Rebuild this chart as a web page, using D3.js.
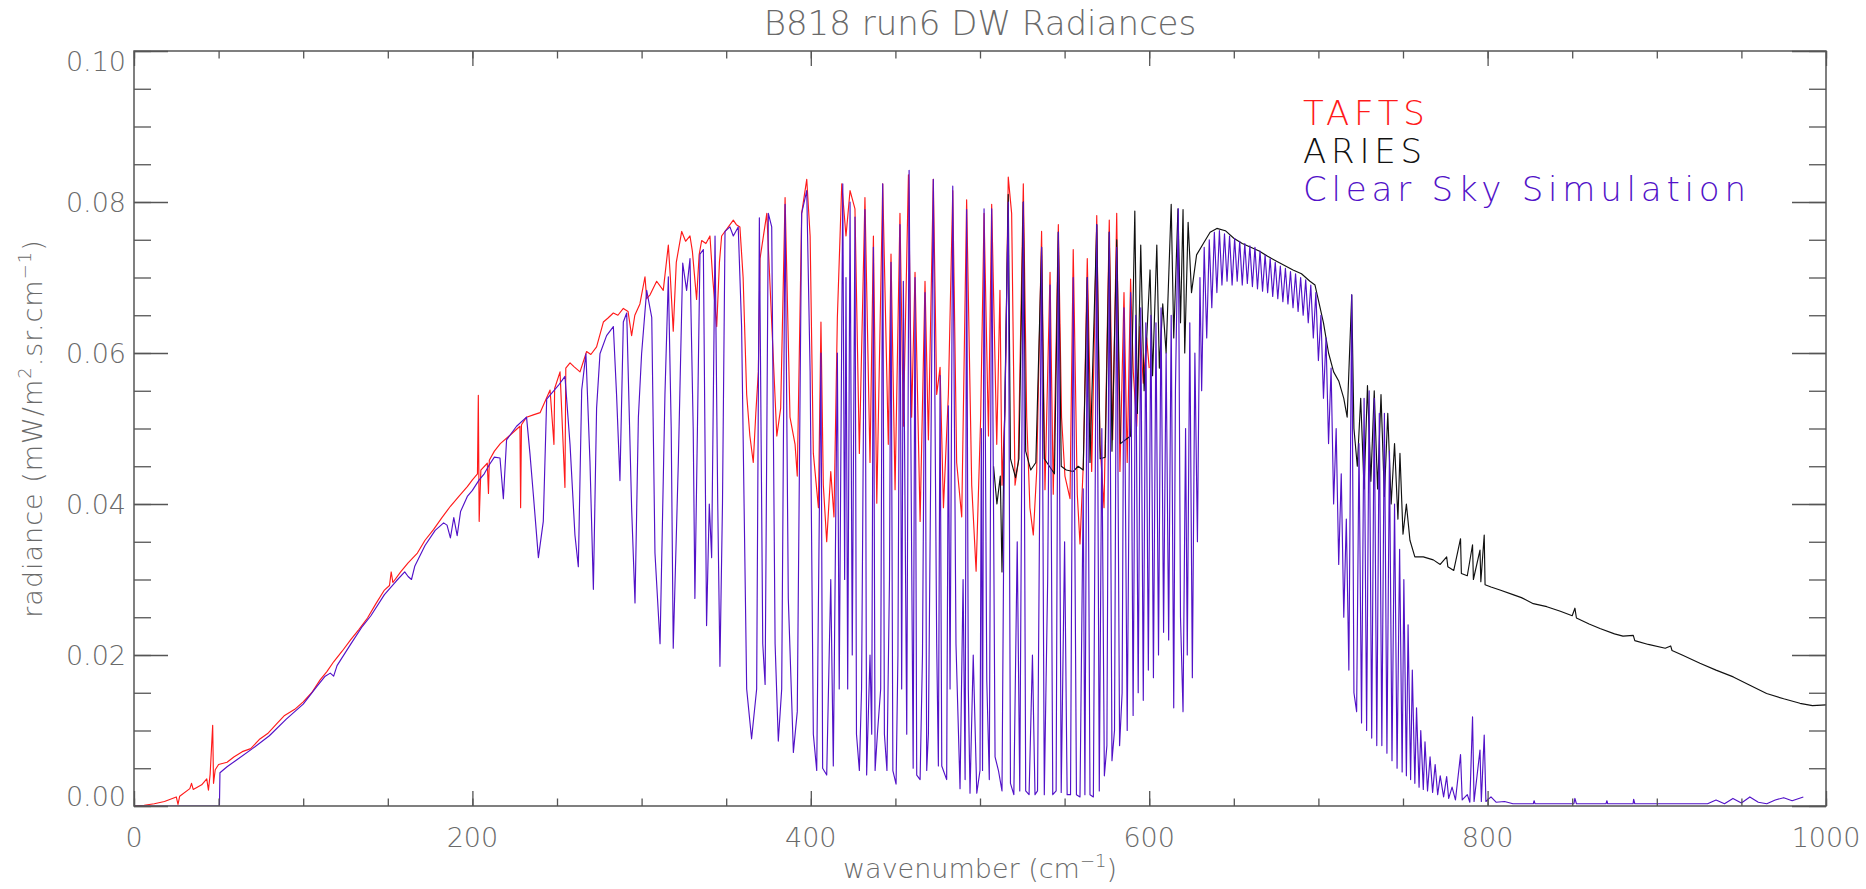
<!DOCTYPE html>
<html>
<head>
<meta charset="utf-8">
<script src="https://cdn.jsdelivr.net/npm/d3@7"></script>
<style>
  body { margin: 0; background: #fff; }
  text { font-family: "DejaVu Sans", sans-serif; font-weight: 200; }
</style>
</head>
<body>
<svg id="chart" width="1866" height="889"></svg>
<script>
// wavenumber (cm-1), radiance pairs
const tafts = [
  [0,0],[6,0.0001],[12,0.0003],[18,0.0006],[25,0.0012],[26,0.0002],[27,0.0013],[33,0.0023],[34,0.0030],[35,0.0022],
  [40,0.0028],[43,0.0036],[44,0.0021],[45,0.0042],[46.5,0.0107],[47,0.0030],[48,0.0048],[50,0.0055],[55,0.0058],[59,0.0065],
  [64,0.0072],[69,0.0076],[74,0.0088],[79,0.0096],[84,0.0108],[89,0.0120],[95,0.0128],[100,0.0138],[105,0.0150],[110,0.0167],
  [114,0.0178],[118,0.0191],[123,0.0205],[128,0.0220],[133,0.0234],[138,0.0249],[143,0.0268],[148,0.0286],[151,0.0292],[152,0.0310],
  [153,0.0296],[157.6,0.0310],[162,0.0322],[167.5,0.0335],[172,0.0352],[177,0.0366],[182,0.0382],[187,0.0397],[192,0.0410],[197,0.0423],
  [200,0.0432],[203,0.0440],[203.5,0.0544],[204,0.0377],[205,0.0445],[208.8,0.0454],[209.5,0.0414],[210,0.0458],[213,0.0470],[216.5,0.0480],
  [222.2,0.0491],[228.1,0.0503],[228.5,0.0395],[229,0.0505],[232,0.0515],[236,0.0518],[240,0.0521],[245.9,0.0551],[248.2,0.0479],[248.6,0.0553],
  [251.8,0.0575],[254.7,0.0422],[255.2,0.0580],[257.7,0.0587],[260,0.0582],[263.6,0.0575],[267.5,0.0602],[270,0.0598],[273.4,0.0608],[277.4,0.0641],
  [280,0.0646],[283.3,0.0653],[286,0.0650],[289.2,0.0659],[292,0.0655],[294.1,0.0623],[296,0.0650],[299,0.0665],[302,0.0701],[303,0.0672],
  [305,0.0677],[308.9,0.0695],[312.8,0.0683],[315.8,0.0743],[317,0.0700],[318.7,0.0629],[320.5,0.0720],[323.7,0.0761],[326,0.0748],[328.6,0.0755],
  [330,0.0735],[332.5,0.0671],[334,0.0730],[335.5,0.0749],[338,0.0745],[340.4,0.0755],[342,0.0700],[344.4,0.0635],[346,0.0720],[347.3,0.0755],
  [350.3,0.0764],[354.2,0.0776],[356,0.0770],[358.1,0.0767],[360,0.0700],[362.1,0.0545],[364,0.0490],[366,0.0455],[367.5,0.0520],[369,0.0575],
  [370,0.0725],[374,0.0785],[377,0.0635],[379.9,0.0490],[382.2,0.0527],[384.8,0.0806],[387.7,0.0515],[390.7,0.0479],[392,0.0437],[394.6,0.0785],
  [397.6,0.0830],[399.6,0.0755],[401.5,0.0467],[404.5,0.0395],[406,0.0641],[407.4,0.0425],[409.4,0.0350],[411.8,0.0443],[413.7,0.0383],[415.7,0.0647],
  [418.3,0.0824],[420.8,0.0755],[423.2,0.0815],[426.1,0.0791],[428.7,0.0467],[432,0.0806],[435,0.0455],[437,0.0755],[439,0.0401],[442.5,0.0824],
  [445.8,0.0479],[447.4,0.0731],[449.8,0.0419],[452.7,0.0785],[454.7,0.0503],[457.7,0.0836],[459.6,0.0515],[461.6,0.0707],[464.6,0.0377],[467.5,0.0695],
  [469.5,0.0485],[472.4,0.0830],[474.4,0.0545],[476.4,0.0581],[478.4,0.0395],[481.3,0.0545],[483.9,0.0815],[486.2,0.0455],[489.2,0.0383],[492.1,0.0803],
  [495.1,0.0425],[497.7,0.0311],[500.4,0.0515],[502.4,0.0785],[505,0.0490],[506.9,0.0797],[509.9,0.0479],[511.8,0.0683],[513,0.0425],[514.8,0.0527],
  [516.7,0.0833],[518.7,0.0785],[520.7,0.0425],[522.6,0.0455],[525.6,0.0824],[527.6,0.0515],[529.5,0.0395],[531.5,0.0359],[533.5,0.0443],[536.4,0.0761],
  [538.4,0.0419],[541.4,0.0707],[543.3,0.0413],[546.3,0.0770],[548.2,0.0515],[550.2,0.0437],[553.2,0.0407],[555.1,0.0737],[557.5,0.0413],[559.1,0.0347],
  [561.1,0.0455],[563.4,0.0725],[566,0.0443],[569,0.0782],[570.9,0.0479],[573.3,0.0395],[576.4,0.0776],[578.4,0.0485],[580.8,0.0785],[582.7,0.0443],
  [585.1,0.0680],[587,0.0455],[589,0.0698],[590.6,0.0575],[592.6,0.0503],[594.5,0.0635],[596.5,0.0560],[598.5,0.0620],[600,0.0580]
];

const aries = [
  [508,0.0450],[510,0.0400],[512,0.0437],[513,0.0310],[514,0.0440],[516.7,0.0810],[518,0.0460],[521,0.0435],[523,0.0460],[525.6,0.0800],
  [527,0.0470],[530,0.0445],[533,0.0455],[536.4,0.0740],[538,0.0460],[541,0.0450],[544,0.0440],[546.3,0.0760],[548,0.0450],[551,0.0445],
  [555,0.0443],[558,0.0450],[561,0.0445],[563.4,0.0700],[565,0.0455],[569,0.0770],[571,0.0460],[574,0.0462],[576.4,0.0760],[578,0.0470],
  [580.8,0.0750],[583,0.0480],[586,0.0485],[589,0.0490],[591.5,0.0788],[593,0.0520],[595,0.0743],[597,0.0550],[600.5,0.0710],[602,0.0570],
  [604.5,0.0743],[606,0.0580],[608,0.0665],[610,0.0600],[613,0.0797],[614.5,0.0620],[617,0.0791],[618.5,0.0640],[620,0.0790],[621,0.0600],
  [623,0.0773],[625,0.0680],[628,0.0730],[632,0.0745],[636,0.0760],[640,0.0765],[645,0.0762],[650,0.0752],[655,0.0745],[660,0.0740],
  [665,0.0735],[670,0.0728],[675,0.0722],[680,0.0716],[685,0.0710],[690,0.0705],[695,0.0695],[698,0.0690],[700,0.0670],[703,0.0640],
  [706,0.0600],[709,0.0575],[712,0.0563],[715,0.0540],[717,0.0515],[719.7,0.0677],[721,0.0500],[723,0.0450],[725,0.0540],[727,0.0420],
  [729,0.0557],[731,0.0430],[733,0.0550],[735,0.0420],[737,0.0545],[739,0.0410],[741,0.0520],[743,0.0400],[745,0.0480],[747,0.0380],
  [748.2,0.0467],[750,0.0360],[752,0.0400],[754.1,0.0352],[757,0.0330],[762,0.0330],[767.9,0.0326],[772,0.0320],[775.8,0.0330],[776.5,0.0317],
  [780,0.0312],[784,0.0354],[784.5,0.0308],[788,0.0305],[791.1,0.0346],[791.6,0.0300],[795.5,0.0339],[796,0.0297],[798,0.0359],[798.5,0.0293],
  [802,0.0290],[807.3,0.0286],[815,0.0280],[820,0.0276],[827,0.0268],[835,0.0264],[843,0.0258],[850,0.0252],[851.6,0.0262],[852.5,0.0249],
  [860,0.0241],[866.4,0.0235],[875,0.0228],[880,0.0225],[886.1,0.0226],[887,0.0219],[895,0.0214],[905,0.0209],[908.2,0.0212],[909,0.0206],
  [915,0.0200],[925.5,0.0189],[935,0.0180],[945.2,0.0171],[955,0.0160],[964.9,0.0149],[975,0.0142],[984.6,0.0136],[992,0.0133],[1000,0.0134]
];

const simulation = [
  [0,0],[50.5,0],[50.8,0.0044],[55,0.0052],[60,0.0060],[70,0.0076],[80,0.0093],[90,0.0115],[100,0.0135],[108,0.0158],
  [113,0.0172],[116,0.0176],[118,0.0172],[120,0.0186],[128,0.0214],[135,0.0238],[140,0.0252],[148,0.0280],[155,0.0298],[160,0.0310],
  [162,0.0304],[164,0.0300],[166,0.0318],[172,0.0345],[178,0.0365],[183,0.0375],[185,0.0372],[187,0.0355],[189,0.0382],[191,0.0358],
  [193,0.0390],[197,0.0410],[200,0.0418],[204,0.0432],[207,0.0440],[210,0.0452],[213,0.0462],[216.3,0.0461],[218.3,0.0407],[220.2,0.0485],
  [226.1,0.0503],[232,0.0515],[234,0.0467],[236,0.0413],[239,0.0329],[241.9,0.0377],[243.9,0.0539],[250.8,0.0557],[254.7,0.0569],[257.7,0.0479],
  [260.6,0.0359],[262.6,0.0317],[264.6,0.0551],[267.1,0.0599],[269.5,0.0455],[271.5,0.0287],[273.4,0.0527],[275.4,0.0599],[279.3,0.0623],[283.3,0.0635],
  [285.2,0.0545],[287.2,0.0431],[289.2,0.0641],[291.2,0.0653],[294.1,0.0395],[296.1,0.0269],[298.1,0.0515],[300,0.0599],[303,0.0683],[306,0.0647],
  [307.9,0.0335],[310.9,0.0215],[313.8,0.0545],[315.8,0.0701],[317.5,0.0500],[318.7,0.0209],[321.7,0.0455],[324.3,0.0719],[326.6,0.0683],[328.6,0.0725],
  [330.5,0.0500],[331.5,0.0275],[333,0.0500],[334.5,0.0731],[336.5,0.0737],[338.4,0.0239],[340,0.0400],[341.4,0.0329],[343.4,0.0755],[345,0.0400],
  [346.3,0.0185],[347.8,0.0400],[349.3,0.0761],[352.2,0.0767],[354.2,0.0755],[357.1,0.0767],[359.1,0.0635],[362.1,0.0155],[365,0.0089],[368,0.0155],
  [369.6,0.0779],[371.6,0.0215],[373,0.0161],[374.9,0.0785],[376.9,0.0767],[378.9,0.0215],[380.8,0.0086],[382.8,0.0155],[384.8,0.0797],[386.7,0.0275],
  [389.7,0.0071],[392,0.0125],[394.6,0.0785],[397.6,0.0815],[399.6,0.0575],[401.5,0.0095],[403.5,0.0047],[406,0.0600],[407,0.0050],[409.4,0.0041],
  [411.8,0.0300],[413.3,0.0053],[415.7,0.0600],[416.8,0.0155],[418.9,0.0824],[420,0.0300],[420.8,0.0700],[421.8,0.0155],[423.2,0.0800],[424.5,0.0200],
  [426.1,0.0780],[427,0.0095],[428.7,0.0047],[430,0.0155],[432,0.0790],[433,0.0041],[435,0.0200],[436,0.0095],[437,0.0740],[438,0.0047],
  [439.5,0.0100],[441.3,0.0155],[442.5,0.0824],[443.5,0.0095],[445,0.0047],[446.5,0.0300],[447.4,0.0720],[448.5,0.0047],[450.4,0.0029],[451.5,0.0200],
  [452.7,0.0770],[453.7,0.0155],[454.7,0.0695],[456.7,0.0095],[458.1,0.0842],[459.6,0.0335],[460.5,0.0050],[461.6,0.0700],[462.6,0.0041],[464.6,0.0035],
  [466,0.0200],[467.5,0.0680],[468.5,0.0047],[469.5,0.0095],[472.4,0.0830],[474.4,0.0215],[475.4,0.0053],[476.4,0.0570],[477.4,0.0053],[480.3,0.0035],
  [481.3,0.0530],[482.3,0.0155],[483.9,0.0821],[485.8,0.0215],[488.2,0.0023],[490,0.0300],[491.2,0.0035],[492.1,0.0790],[493.1,0.0155],[494.1,0.0017],
  [496,0.0200],[498.1,0.0017],[500,0.0047],[500.8,0.0500],[501.5,0.0047],[502.4,0.0791],[504,0.0167],[505.5,0.0035],[506.9,0.0791],[508.9,0.0065],
  [510.9,0.0047],[513,0.0020],[514.5,0.0500],[516.7,0.0800],[518,0.0030],[520,0.0015],[522,0.0350],
  [523.5,0.0020],[525.6,0.0800],[527,0.0020],[529,0.0015],[531,0.0200],[532.5,0.0015],[534,0.0020],[536.4,0.0740],[538,0.0015],[540,0.0300],
  [541.4,0.0690],[543,0.0015],[545,0.0020],[546.3,0.0760],[548,0.0018],[550,0.0350],[551.5,0.0015],[553.5,0.0015],[555.1,0.0700],[557,0.0015],
  [559.1,0.0012],[561,0.0420],[562,0.0015],[563.4,0.0700],[565,0.0015],[567,0.0012],[569,0.0770],[570.5,0.0020],[572,0.0500],[573.5,0.0040],
  [575,0.0080],[576.4,0.0760],[578,0.0060],[579.5,0.0100],[580.8,0.0740],[582.5,0.0080],[584,0.0150],[585.1,0.0660],[587,0.0100],[589,0.0680],
  [590.5,0.0120],[592,0.0650],[593.5,0.0150],[595,0.0660],[596.5,0.0140],[598,0.0640],[599.5,0.0180],[601,0.0650],[602.5,0.0170],[604,0.0640],
  [605.5,0.0200],[607,0.0660],[608.5,0.0230],[610,0.0600],[611.5,0.0220],[613,0.0650],[614.5,0.0130],[615.5,0.0550],[617.2,0.0791],[618.5,0.0250],
  [620,0.0125],[621.5,0.0500],[622.5,0.0200],[624,0.0640],[625.5,0.0170],[627,0.0600],[628.5,0.0350],[630,0.0700],[631,0.0550],[632.5,0.0740],
  [634,0.0620],[635.5,0.0750],[637,0.0660],[638.5,0.0760],[640,0.0680],[641.5,0.0762],[643,0.0690],[644.5,0.0758],[646,0.0695],[647.5,0.0755],
  [649,0.0690],[650.5,0.0752],[652,0.0695],[653.5,0.0748],[655,0.0690],[656.5,0.0745],[658,0.0692],[659.5,0.0742],[661,0.0688],[662.5,0.0740],
  [664,0.0685],[665.5,0.0735],[667,0.0682],[668.5,0.0730],[670,0.0680],[671.5,0.0725],[673,0.0675],[674.5,0.0720],[676,0.0672],[677.5,0.0715],
  [679,0.0668],[680.5,0.0712],[682,0.0665],[683.5,0.0708],[685,0.0660],[686.5,0.0705],[688,0.0655],[689.5,0.0700],[691,0.0650],[692.5,0.0697],
  [694,0.0640],[695.5,0.0690],[697,0.0620],[698.5,0.0680],[700,0.0590],[701.5,0.0650],[703,0.0540],[704.5,0.0620],[706,0.0480],[707.5,0.0580],
  [709,0.0400],[710.5,0.0500],[712,0.0320],[713.5,0.0440],[715,0.0250],[716.5,0.0380],[718,0.0180],[719.7,0.0677],[721,0.0150],[722.6,0.0125],
  [724,0.0480],[725.5,0.0110],[727,0.0540],[728.5,0.0100],[730,0.0550],[731.5,0.0090],[733,0.0540],[734.5,0.0080],[736,0.0520],[737.5,0.0080],
  [739,0.0520],[740.5,0.0070],[742,0.0470],[743.5,0.0060],[745,0.0400],[746.5,0.0050],[748,0.0340],[749.5,0.0045],[750.5,0.0300],[752,0.0040],
  [753,0.0240],[754.5,0.0035],[755.5,0.0180],[757,0.0030],[758,0.0130],[759.5,0.0025],[760.5,0.0100],[762,0.0022],[763,0.0085],[764.5,0.0020],
  [766,0.0065],[767.5,0.0018],[769,0.0055],[770.5,0.0015],[772,0.0040],[774,0.0012],[775.8,0.0039],[777,0.0010],[779,0.0025],[781,0.0008],
  [784,0.0068],[785,0.0008],[788,0.0015],[789.5,0.0005],[791.1,0.0118],[792,0.0006],[795.5,0.0074],[796.3,0.0006],[798,0.0094],[799,0.0006],
  [802,0.0012],[805,0.0005],[810,0.0006],[815,0.0003],[827,0.0003],[827.5,0.0007],[828,0.0003],[851,0.0003],[851.6,0.0010],[852.5,0.0003],
  [870,0.0003],[870.5,0.0007],[871,0.0003],[886,0.0003],[886.3,0.0009],[887,0.0003],[930,0.0003],[935,0.0008],[940,0.0003],[945,0.0010],
  [950,0.0004],[955,0.0012],[960,0.0005],[965,0.0003],[970,0.0008],[975,0.0011],[980,0.0007],[986.6,0.0012]
];

const xTickLabels = ["0", "200", "400", "600", "800", "1000"];
const yTickLabels = ["0.00", "0.02", "0.04", "0.06", "0.08", "0.10"];
const seriesNames = ["TAFTS", "ARIES", "Clear Sky Simulation"];
const seriesColors = ["#ff1a1a", "#111111", "#5212c8"];

const svg = d3.select("#chart");
svg.append("rect").attr("width", 1866).attr("height", 889).attr("fill", "#fff");

const plotLeft = 134, plotRight = 1826, plotTop = 51, plotBottom = 806;
const x = d3.scaleLinear().domain([0, 1000]).range([plotLeft, plotRight]);
const y = d3.scaleLinear().domain([0, 0.1]).range([plotBottom, plotTop]);

svg.append("clipPath").attr("id", "plotclip")
  .append("rect").attr("x", plotLeft).attr("y", plotTop)
  .attr("width", plotRight - plotLeft).attr("height", plotBottom - plotTop);

// spectra
const line = d3.line().x(d => x(d[0])).y(d => y(d[1]));
const plot = svg.append("g").attr("clip-path", "url(#plotclip)");
[tafts, aries, simulation].forEach((s, i) => {
  plot.append("path")
    .attr("d", line(s))
    .attr("fill", "none")
    .attr("stroke", seriesColors[i])
    .attr("stroke-width", 1.15)
    .attr("stroke-linejoin", "round");
});

// axes: ticks pointing inward on all four sides
const axisColor = "#555";
function styleAxis(g) {
  g.select(".domain").remove();
  g.selectAll("line").attr("stroke", axisColor).attr("stroke-width", 1.3);
  g.selectAll("text").remove();
}
const axes = [
  [d3.axisBottom(x), 0, plotBottom, 20, -7.5], [d3.axisBottom(x), 0, plotBottom, 5, -15],
  [d3.axisTop(x), 0, plotTop, 20, -7.5], [d3.axisTop(x), 0, plotTop, 5, -15],
  [d3.axisLeft(y), plotLeft, 0, 20, -17], [d3.axisLeft(y), plotLeft, 0, 5, -34],
  [d3.axisRight(y), plotRight, 0, 20, -17], [d3.axisRight(y), plotRight, 0, 5, -34]
];
axes.forEach(([ax, tx, ty, n, size]) => {
  svg.append("g")
    .attr("transform", `translate(${tx},${ty})`)
    .call(ax.ticks(n).tickSizeInner(size).tickSizeOuter(0).tickFormat(""))
    .call(styleAxis);
});

svg.append("rect")
  .attr("x", plotLeft).attr("y", plotTop)
  .attr("width", plotRight - plotLeft).attr("height", plotBottom - plotTop)
  .attr("fill", "none").attr("stroke", axisColor).attr("stroke-width", 1.5);

// tick labels
const labelColor = "#6a6a6a";
svg.append("g").selectAll("text")
  .data(x.ticks(5))
  .join("text")
  .attr("x", d => x(d))
  .attr("y", 847)
  .attr("text-anchor", "middle")
  .attr("font-size", 27)
  .attr("fill", labelColor)
  .text((d, i) => xTickLabels[i]);

const yTicks = y.ticks(5);
svg.append("g").selectAll("text")
  .data(yTicks)
  .join("text")
  .attr("x", 126)
  .attr("y", (d, i) => {
    if (i === 0) return y(d);
    if (i === yTicks.length - 1) return y(d) + 20;
    return y(d) + 10;
  })
  .attr("text-anchor", "end")
  .attr("font-size", 27)
  .attr("fill", labelColor)
  .text((d, i) => yTickLabels[i]);

// title
svg.append("text")
  .attr("x", (plotLeft + plotRight) / 2).attr("y", 35)
  .attr("text-anchor", "middle")
  .attr("font-size", 34)
  .attr("fill", labelColor)
  .text("B818 run6 DW Radiances");

// x axis title
const xt = svg.append("text")
  .attr("x", (plotLeft + plotRight) / 2).attr("y", 878)
  .attr("text-anchor", "middle")
  .attr("font-size", 27)
  .attr("fill", labelColor);
xt.append("tspan").text("wavenumber (cm");
xt.append("tspan").attr("dy", -11).attr("font-size", 18).text("−1");
xt.append("tspan").attr("dy", 11).text(")");

// y axis title
const yt = svg.append("text")
  .attr("transform", `translate(42,${(plotTop + plotBottom) / 2}) rotate(-90)`)
  .attr("text-anchor", "middle")
  .attr("font-size", 27)
  .attr("letter-spacing", 1)
  .attr("fill", labelColor);
yt.append("tspan").text("radiance (mW/m");
yt.append("tspan").attr("dy", -11).attr("font-size", 18).text("2");
yt.append("tspan").attr("dy", 11).text(".sr.cm");
yt.append("tspan").attr("dy", -11).attr("font-size", 18).text("−1");
yt.append("tspan").attr("dy", 11).text(")");

// legend
const legendBaselines = [125, 163, 201];
svg.append("g").selectAll("text")
  .data(seriesNames)
  .join("text")
  .attr("x", 1303)
  .attr("y", (d, i) => legendBaselines[i])
  .attr("font-size", 34)
  .attr("letter-spacing", 4.8)
  .attr("fill", (d, i) => seriesColors[i])
  .text(d => d);
</script>
</body>
</html>
